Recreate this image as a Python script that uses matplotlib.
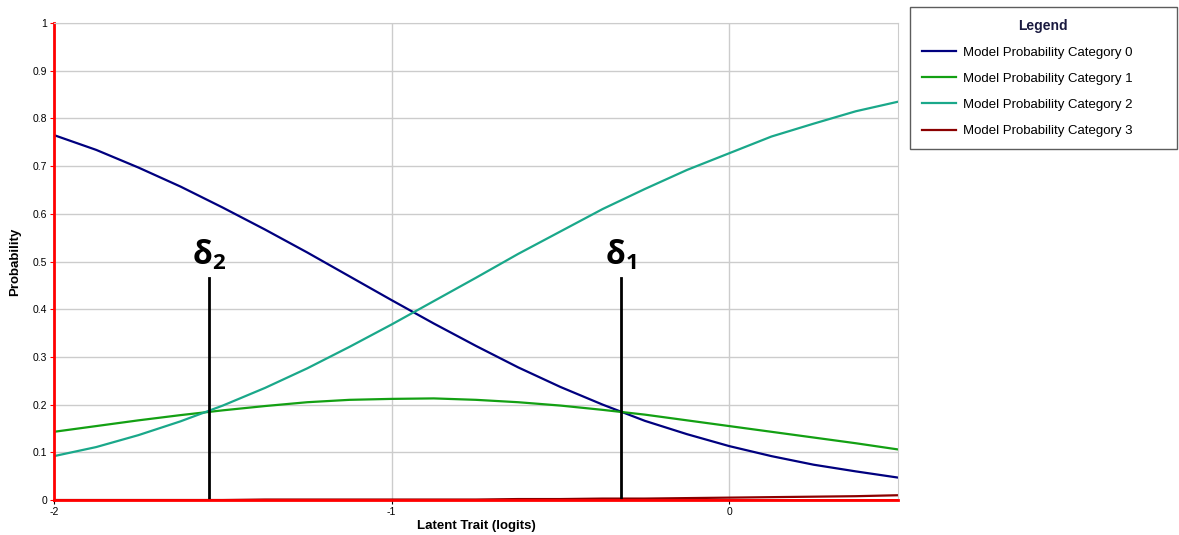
import matplotlib.pyplot as plt

plt.rcParams['font.family'] = ['Liberation Sans', 'DejaVu Sans']
plt.rcParams['axes.unicode_minus'] = False
plt.rcParams['mathtext.fontset'] = 'custom'
plt.rcParams['mathtext.rm'] = 'Open Sans'
plt.rcParams['mathtext.it'] = 'Open Sans:bold'
plt.rcParams['mathtext.bf'] = 'Open Sans:bold'

# latent trait values (logits) and category probabilities
theta = [-2.0, -1.875, -1.75, -1.625, -1.5, -1.375, -1.25, -1.125, -1.0, -0.875, -0.75,
         -0.625, -0.5, -0.375, -0.25, -0.125, 0.0, 0.125, 0.25, 0.375, 0.5]
cat0 = [0.765, 0.734, 0.697, 0.657, 0.613, 0.567, 0.519, 0.469, 0.419, 0.370, 0.323,
        0.278, 0.237, 0.200, 0.166, 0.138, 0.113, 0.092, 0.074, 0.060, 0.047]
cat1 = [0.143, 0.155, 0.167, 0.178, 0.188, 0.197, 0.205, 0.210, 0.212, 0.213, 0.210,
        0.205, 0.198, 0.189, 0.179, 0.167, 0.155, 0.143, 0.131, 0.119, 0.106]
cat2 = [0.092, 0.111, 0.136, 0.165, 0.198, 0.235, 0.276, 0.321, 0.368, 0.417, 0.466,
        0.516, 0.563, 0.610, 0.652, 0.692, 0.727, 0.762, 0.789, 0.815, 0.835]
cat3 = [0.000, 0.000, 0.000, 0.000, 0.000, 0.001, 0.001, 0.001, 0.001, 0.001, 0.001,
        0.002, 0.002, 0.003, 0.003, 0.004, 0.005, 0.006, 0.007, 0.008, 0.010]

series = [cat0, cat1, cat2, cat3]
labels = ['Model Probability Category 0', 'Model Probability Category 1',
          'Model Probability Category 2', 'Model Probability Category 3']
colors = ['#00007f', '#13a013', '#1aa88a', '#8b0000']

# thresholds
deltas = [-0.32, -1.54]
delta_names = [r'$\mathbf{\delta_1}$', r'$\mathbf{\delta_2}$']
delta_top = 0.465

fig = plt.figure(figsize=(11.79, 5.35), dpi=100)
ax = fig.add_axes([0.0458, 0.0654, 0.7159, 0.8916])

for ys, lab, c in zip(series, labels, colors):
    ax.plot(theta, ys, color=c, lw=1.6, label=lab)

ax.axhline(0, color='red', lw=2, zorder=1)

for d, name in zip(deltas, delta_names):
    ax.plot([d, d], [0, delta_top], color='black', lw=2)
    ax.text(d, delta_top + 0.012, name, ha='center', va='bottom', fontsize=23)

ax.set_xlim(-2, 0.5)
ax.set_ylim(0, 1)
ax.set_xticks([-2, -1, 0])
ax.set_yticks([i / 10 for i in range(11)])
ax.set_yticklabels(['0', '0.1', '0.2', '0.3', '0.4', '0.5', '0.6', '0.7', '0.8', '0.9', '1'])
ax.tick_params(labelsize=7.5, length=3, colors='black', pad=2)
ax.tick_params(axis='y', color='red')
ax.grid(True, color='#cccccc', lw=1)
ax.set_axisbelow(True)

ax.spines['left'].set_color('red')
ax.spines['left'].set_linewidth(2)
ax.spines['bottom'].set_color('red')
ax.spines['bottom'].set_linewidth(2)
ax.spines['top'].set_color('#cccccc')
ax.spines['right'].set_color('#cccccc')

ax.set_xlabel('Latent Trait (logits)', fontsize=9.5, fontweight='bold', labelpad=2)
ax.set_ylabel('Probability', fontsize=9.5, fontweight='bold', labelpad=8)

leg = fig.legend(loc='upper left', bbox_to_anchor=(0.772, 0.729, 0.226, 0.258),
                 mode='expand', fontsize=9.5, title='Legend', frameon=True,
                 fancybox=False, borderpad=0.9, handlelength=2.6, handletextpad=0.5,
                 labelspacing=1.05, borderaxespad=0)
leg.get_title().set_fontweight('bold')
leg.get_title().set_fontsize(10)
leg.get_title().set_color('#1a1a40')
leg.get_frame().set_edgecolor('#333333')
leg.get_frame().set_linewidth(1)

plt.savefig('out.png', dpi=100)
